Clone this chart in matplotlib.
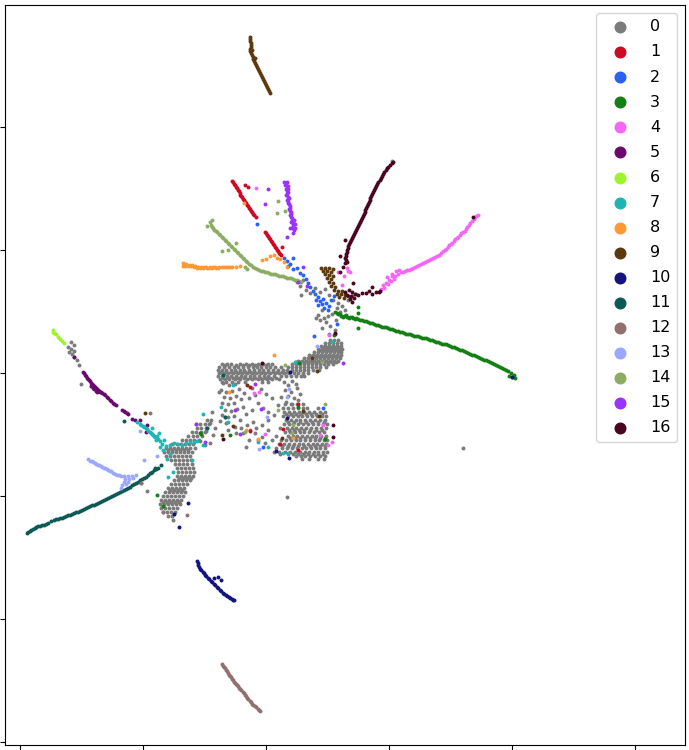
# Embedding scatter, one colour per cluster.
# axis units are arbitrary (tick labels are not visible in the source).
import matplotlib
matplotlib.use("Agg")
import matplotlib.pyplot as plt

labels = [str(i) for i in range(17)]
colors = ["#7b7b7b", "#cc0a23", "#2b62f5", "#128012", "#f566f5", "#6a0a6e", "#9cf52a", "#1fb5b5", "#ff9933",
          "#5c3a0e", "#14147f", "#0b5a55", "#937070", "#9ba8ff", "#8cac64", "#9933ff", "#4a0520"]

x_ticks = [20, 143, 266, 389, 512, 635]
y_ticks = [127, 250, 373, 496, 619, 742]

# cluster 0 is a big cloud, stored as rows: (y, [x, x, ...])
gray_rows = [
    (340, [330, 334, 338]), (343, [325, 329, 333, 337, 341]), (346, [321, 325, 329, 333, 337, 341]),
    (347, [323, 327, 331, 335, 339]), (350, [320, 324, 328, 332, 336, 340]), (356, [311, 315, 319, 323, 327, 331, 335, 339]),
    (362, [296, 300, 304, 308, 312, 316, 320, 324, 328, 332, 336]),
    (349, [318, 322, 326, 330, 334, 338, 342]), (352, [314, 318, 322, 326, 330, 334, 338, 341]),
    (355, [309, 313, 317, 321, 325, 329, 333, 337, 341]), (358, [304, 308, 312, 316, 320, 324, 328, 332, 336, 340]),
    (361, [298, 302, 306, 310, 314, 318, 322, 326, 330, 334, 338]),
    (364, [222, 227, 231, 240, 246, 252, 258, 263, 268, 272, 292, 296, 300, 304, 308, 312, 316, 320, 324, 328, 333]),
    (365, [225, 236, 243, 249, 255, 261, 266]),
    (367, [219, 224, 229, 234, 238, 243, 248, 253, 257, 261, 266, 270, 275, 281, 288, 292, 296, 300, 304, 308, 312, 316, 320, 326]),
    (370, [218, 222, 226, 231, 235, 240, 244, 249, 254, 259, 263, 268, 273, 278, 283, 287, 292, 296, 300, 304, 308, 313, 319]),
    (372, [221, 226, 231, 236, 240, 245, 250, 254, 259, 263, 268, 273, 277, 282, 287]),
    (373, [219, 224, 228, 233, 238, 242, 247, 252, 256, 261, 265, 270, 275, 279, 284, 289, 294, 298, 303, 308]),
    (376, [218, 222, 227, 231, 236, 241, 245, 250, 254, 259, 264, 268, 274, 281, 286, 291, 296, 301, 304]),
    (378, [223, 228, 233, 238, 244, 250, 255, 260, 265, 270, 276]),
    (379, [220, 225, 229, 235, 240, 247, 252, 258, 262, 267, 272, 279]),
    (382, [222, 226, 232, 238, 245, 262, 268, 284]),
    (404, [285, 291, 297, 303]), (408, [283, 288, 293, 298, 303, 307, 318]),
    (412, [284, 289, 294, 299, 304, 309, 314, 320, 325]), (414, [286, 291, 296, 301, 306, 311, 316, 322]),
    (416, [283, 288, 293, 298, 302, 307, 312, 317, 322, 326]), (422, [288, 294, 300, 306, 312, 318, 324]),
    (420, [286, 291, 296, 300, 305, 310, 315, 320, 325]), (424, [284, 289, 293, 298, 303, 308, 313, 318, 323, 327]),
    (428, [287, 292, 296, 301, 306, 311, 316, 321, 326]), (430, [289, 294, 299, 304, 310, 316, 322]),
    (432, [285, 290, 295, 300, 304, 309, 314, 319, 324]), (438, [290, 295, 300, 305, 310, 315, 320, 325]),
    (436, [288, 293, 297, 302, 307, 312, 316, 321, 326]), (440, [281, 286, 291, 296, 300, 305, 310, 315, 319, 324, 327]),
    (444, [279, 284, 289, 294, 299, 303, 308, 313, 317, 322, 326]), (446, [282, 288, 293, 298, 304, 310, 315, 320, 325]),
    (448, [276, 282, 287, 292, 297, 302, 306, 311, 316, 320, 325]), (454, [280, 288, 293, 298, 303, 308, 313, 318, 323]),
    (452, [274, 279, 285, 290, 295, 300, 305, 309, 314, 318, 323, 327]), (456, [296, 301, 305, 310, 315, 320, 325]),
    (459, [302, 309, 318, 324]),
    (420, [207, 211]), (424, [200, 205, 209]), (428, [197, 201, 206]), (432, [192, 196, 201, 205]),
    (436, [188, 193, 197, 202]), (440, [182, 186, 190, 194, 199]), (444, [172, 177, 181, 185, 189, 193]),
    (448, [166, 170, 174, 178, 182, 186, 190, 195]), (450, [168, 172, 176, 180, 184, 188]),
    (452, [164, 168, 172, 176, 180, 184, 188, 192]),
    (456, [166, 170, 174, 178, 182, 186, 190]), (460, [171, 175, 179, 183, 187, 191]),
    (464, [175, 179, 183, 187, 192]), (468, [177, 181, 185, 189, 193]), (472, [178, 182, 186, 190, 194]),
    (476, [177, 181, 185, 189, 193]), (478, [179, 183, 187, 191]), (480, [174, 178, 182, 186, 190]),
    (484, [171, 175, 179, 183, 187]), (488, [168, 172, 176, 180, 184]), (490, [170, 174, 178, 182]),
    (492, [165, 169, 173, 177, 181, 185]), (496, [163, 167, 171, 175, 179, 183]),
    (500, [161, 165, 169, 173, 177, 181]), (502, [163, 167, 171, 175, 179]), (504, [160, 164, 168, 172, 176, 180]),
    (508, [161, 165, 169, 173, 177]), (512, [163, 167, 171, 175]), (516, [168, 172]), (520, [173]),
]
gray_loose = [
    (292, 381), (288, 385), (296, 384), (285, 390), (291, 392), (297, 388), (288, 396), (294, 398), (300, 394), (286, 402),
    (292, 404), (298, 400), (281, 397), (223, 383), (229, 385), (235, 384), (221, 390), (226, 392), (232, 391), (239, 389),
    (224, 397), (230, 398), (236, 396), (222, 403), (228, 404), (234, 403), (241, 399), (225, 410), (231, 411), (237, 409),
    (243, 407), (222, 415), (228, 417), (234, 416), (220, 421), (226, 423), (240, 420), (246, 414), (252, 410), (249, 398),
    (255, 395), (261, 389), (258, 403), (263, 408), (268, 412), (272, 398), (266, 394), (252, 388), (244, 393), (247, 425),
    (253, 422), (241, 428), (235, 427), (228, 430), (236, 433), (243, 433), (250, 430), (256, 428), (262, 425), (268, 420),
    (274, 415), (278, 405), (215, 428), (210, 423), (206, 431), (213, 435), (255, 433), (262, 437), (268, 430), (258, 440),
    (265, 443), (272, 440), (276, 436), (280, 428), (249, 440), (246, 447), (200, 441), (205, 445), (210, 443),
    (297, 282), (300, 286), (303, 280), (306, 290), (301, 295), (310, 293), (315, 288), (320, 292), (325, 289), (329, 295),
    (333, 300), (338, 303), (342, 306), (348, 300), (352, 296), (356, 294), (322, 310), (318, 315), (320, 320), (324, 318),
    (328, 316), (332, 314), (316, 318), (326, 322), (330, 326), (335, 330), (336, 320), (340, 312), (337, 308), (345, 310),
    (322, 328), (329, 334), (71, 342), (74, 345), (68, 347), (71, 349), (74, 351), (69, 352), (72, 354), (74, 357), (77, 360),
    (79, 365), (81, 384), (150, 413), (463, 448), (287, 497), (392, 161), (141, 483), (147, 491), (151, 473), (196, 424),
    (212, 412), (219, 392),
]
cluster_1 = [
    (232, 181), (234, 184), (236, 187), (238, 190), (240, 193), (241, 196), (243, 199), (245, 202), (247, 205), (249, 208),
    (251, 211), (253, 214), (256, 217), (265, 232), (267, 235), (269, 238), (271, 241), (273, 244), (275, 247), (277, 250),
    (279, 253), (281, 255), (245, 185), (248, 187), (282, 247), (250, 387), (250, 431), (298, 404), (280, 444), (298, 450),
    (283, 429), (335, 334), (233, 182), (235, 185), (237, 188), (239, 191), (240, 195), (242, 197), (244, 200), (246, 203),
    (248, 206), (250, 209), (252, 212), (254, 215), (266, 233), (268, 236), (270, 239), (272, 242), (274, 245), (276, 248),
    (278, 251), (280, 254),
]
cluster_2 = [
    (284, 258), (287, 261), (290, 264), (293, 258), (288, 266), (293, 269), (297, 268), (300, 273), (303, 275), (306, 279),
    (308, 283), (310, 287), (313, 291), (315, 294), (318, 297), (316, 300), (320, 301), (323, 299), (322, 304), (326, 303),
    (329, 306), (331, 300), (318, 305), (324, 308), (334, 296), (328, 310), (314, 336), (337, 324), (257, 224), (323, 408),
    (263, 447),
]
cluster_3 = [
    (335, 312), (338, 314), (341, 316), (344, 316), (347, 317), (350, 317), (353, 318), (356, 318), (360, 320), (364, 321),
    (368, 322), (372, 323), (376, 325), (380, 326), (384, 327), (388, 328), (392, 329), (396, 331), (400, 332), (404, 333),
    (408, 334), (412, 335), (416, 336), (420, 337), (424, 338), (428, 339), (432, 340), (436, 342), (440, 343), (444, 344),
    (448, 345), (452, 347), (456, 348), (460, 350), (464, 351), (468, 353), (472, 355), (476, 356), (480, 358), (484, 360),
    (488, 361), (492, 363), (496, 365), (500, 367), (504, 369), (508, 371), (511, 373), (514, 375), (515, 378), (512, 377),
    (509, 376), (358, 328), (358, 307), (358, 313), (334, 335), (298, 407), (299, 363), (230, 435), (325, 439), (201, 434),
    (157, 495), (163, 506), (200, 433), (337, 313), (340, 314), (343, 317), (346, 315), (349, 318), (352, 317), (355, 319),
    (358, 319), (362, 320), (366, 321), (370, 323), (374, 324), (378, 325), (382, 327), (386, 327), (390, 329), (394, 330),
    (398, 331), (402, 332), (406, 334), (410, 334), (414, 336), (418, 336), (422, 338), (426, 338), (430, 340), (434, 341),
    (438, 342), (442, 344), (446, 344), (450, 346), (454, 347), (458, 349), (462, 350), (466, 352), (470, 354), (474, 355),
    (478, 357), (482, 359), (486, 360), (490, 362), (494, 364), (498, 366), (502, 368), (506, 370),
]
cluster_4 = [
    (478, 215), (475, 217), (472, 221), (469, 225), (466, 229), (463, 232), (460, 235), (457, 238), (454, 241), (451, 244),
    (448, 247), (445, 250), (441, 253), (437, 256), (433, 258), (429, 260), (425, 262), (421, 264), (417, 266), (413, 268),
    (409, 270), (405, 271), (401, 272), (398, 274), (395, 276), (399, 270), (392, 276), (396, 271), (389, 280), (386, 283),
    (383, 285), (381, 289), (384, 288), (388, 284), (391, 281), (394, 279), (387, 277), (392, 274), (338, 272), (347, 268),
    (348, 271), (342, 285), (344, 276), (350, 272), (254, 393), (259, 392), (265, 434), (323, 425), (320, 435), (332, 442),
    (328, 445), (329, 335), (256, 188), (476, 216), (474, 219), (470, 223), (467, 227), (465, 231), (461, 233), (458, 237),
    (455, 239), (452, 243), (449, 245), (446, 249), (443, 251), (439, 255), (435, 257), (431, 259), (427, 261), (423, 263),
    (419, 265), (415, 267), (411, 269), (407, 270), (403, 272),
]
cluster_5 = [
    (83, 372), (85, 375), (87, 378), (89, 380), (91, 383), (93, 385), (95, 387), (97, 389), (99, 391), (101, 392), (104, 394),
    (107, 397), (110, 400), (113, 403), (116, 405), (122, 410), (125, 412), (128, 414), (132, 419), (135, 420), (140, 420),
    (147, 425), (74, 357), (146, 432), (93, 388), (96, 391), (91, 386), (84, 373), (86, 376), (88, 379), (90, 381), (92, 384),
    (94, 386), (96, 388), (98, 390), (100, 392), (102, 393), (105, 395), (108, 398), (111, 401), (114, 404), (124, 411),
    (127, 413), (94, 389), (97, 392),
]
cluster_6 = [(53, 330), (54, 333), (56, 334), (58, 337), (60, 339), (62, 341), (64, 343), (53, 332)]
cluster_7 = [
    (137, 422), (140, 424), (143, 426), (146, 428), (148, 431), (151, 433), (153, 435), (155, 437), (158, 439), (160, 441),
    (157, 436), (162, 444), (160, 447), (163, 450), (166, 446), (170, 445), (174, 443), (178, 444), (182, 445), (186, 443),
    (190, 442), (194, 442), (197, 441), (156, 440), (159, 433), (152, 428), (164, 440), (170, 454), (167, 459), (168, 477),
    (173, 472), (192, 460), (203, 445), (223, 375), (233, 385), (221, 407), (295, 362), (332, 342), (228, 422), (225, 417),
    (203, 414), (207, 428), (283, 453), (288, 453), (258, 442), (268, 447), (141, 425), (144, 427), (147, 429), (150, 432),
    (152, 434), (154, 436),
]
cluster_8 = [
    (183, 263), (183, 266), (186, 264), (189, 265), (192, 265), (195, 266), (198, 267), (201, 267), (204, 267), (207, 268),
    (210, 267), (213, 267), (216, 268), (219, 267), (224, 267), (228, 267), (232, 267), (236, 267), (240, 266), (262, 260),
    (266, 259), (270, 256), (274, 255), (277, 258), (280, 259), (284, 262), (287, 267), (274, 355), (229, 392), (246, 430),
    (293, 438), (258, 439), (244, 203), (185, 266), (188, 266), (191, 266), (194, 267), (197, 268), (200, 268), (203, 268),
    (206, 267), (209, 268), (212, 268), (215, 267), (218, 268), (222, 267), (226, 267), (230, 267),
]
cluster_9 = [
    (250, 37), (250, 41), (251, 45), (250, 49), (251, 53), (253, 57), (254, 61), (256, 65), (258, 69), (260, 73), (262, 77),
    (264, 81), (266, 85), (268, 89), (270, 93), (252, 50), (255, 58), (321, 268), (325, 268), (329, 268), (333, 269),
    (323, 271), (327, 271), (331, 272), (325, 274), (329, 275), (333, 276), (327, 278), (331, 279), (329, 282), (333, 283),
    (331, 286), (335, 287), (334, 290), (338, 291), (342, 291), (337, 294), (341, 294), (345, 295), (339, 297), (344, 298),
    (348, 296), (247, 385), (317, 371), (303, 411), (319, 416), (282, 438), (233, 426), (312, 358), (222, 435), (145, 413),
    (250, 39), (251, 43), (251, 47), (250, 51), (252, 55), (253, 59), (255, 63), (257, 67), (259, 71), (261, 75), (263, 79),
    (265, 83), (267, 87), (269, 91),
]
cluster_10 = [
    (197, 561), (198, 565), (200, 569), (203, 572), (205, 575), (208, 578), (211, 581), (214, 584), (217, 587), (220, 590),
    (223, 593), (226, 595), (229, 597), (232, 599), (234, 600), (214, 578), (218, 577), (221, 580), (290, 372), (287, 418),
    (276, 451), (289, 458), (188, 503), (174, 514), (179, 527), (512, 377), (198, 563), (199, 567), (201, 570), (204, 573),
    (206, 576), (209, 579), (212, 582), (215, 585), (218, 588), (221, 591), (224, 594), (227, 596), (230, 598), (233, 600),
]
cluster_11 = [
    (27, 533), (30, 531), (33, 529), (36, 527), (40, 526), (44, 525), (48, 523), (51, 521), (54, 520), (58, 519), (62, 518),
    (66, 516), (70, 515), (74, 513), (78, 512), (82, 510), (86, 508), (90, 506), (94, 505), (98, 503), (102, 501), (106, 499),
    (110, 497), (114, 495), (118, 493), (122, 491), (126, 489), (130, 487), (134, 484), (138, 482), (142, 479), (146, 477),
    (150, 473), (154, 470), (158, 468), (161, 465), (155, 468), (124, 421), (223, 375), (225, 417), (207, 428), (28, 532),
    (31, 530), (35, 528), (38, 526), (42, 525), (46, 524), (56, 519), (60, 518), (64, 517), (68, 515), (72, 514), (76, 512),
    (80, 511), (84, 509), (88, 507), (92, 505), (96, 504), (100, 502), (104, 500), (108, 498), (112, 496), (116, 494),
    (120, 492), (124, 490), (128, 488), (132, 485), (136, 483), (140, 480), (144, 478), (148, 475), (152, 472), (156, 469),
]
cluster_12 = [
    (222, 664), (224, 667), (226, 670), (228, 673), (230, 676), (232, 679), (234, 682), (236, 684), (238, 686), (240, 689),
    (243, 692), (245, 695), (247, 698), (250, 701), (252, 704), (255, 706), (258, 709), (260, 711), (163, 512), (187, 515),
    (141, 483), (223, 666), (225, 668), (227, 671), (229, 675), (231, 677), (233, 680), (235, 683), (237, 685), (239, 688),
    (241, 690), (244, 693), (246, 696), (248, 699), (251, 702), (253, 705), (256, 707), (259, 710),
]
cluster_13 = [
    (88, 459), (90, 461), (93, 462), (96, 464), (99, 465), (102, 467), (105, 468), (108, 470), (111, 471), (115, 474),
    (119, 475), (124, 476), (128, 476), (132, 476), (136, 475), (125, 479), (129, 479), (133, 478), (124, 482), (128, 482),
    (122, 485), (126, 484), (121, 488), (144, 460), (157, 456), (140, 431), (289, 389), (287, 397), (267, 417), (259, 449),
    (317, 346), (92, 461), (95, 463), (98, 465), (101, 466), (104, 468), (107, 469), (110, 471), (113, 473), (117, 475),
    (121, 476),
]
cluster_14 = [
    (207, 226), (211, 225), (213, 228), (216, 231), (219, 234), (222, 237), (225, 240), (228, 243), (231, 246), (234, 249),
    (237, 252), (240, 255), (243, 258), (246, 261), (249, 264), (253, 267), (257, 269), (261, 271), (265, 272), (269, 273),
    (273, 274), (277, 275), (281, 276), (285, 277), (289, 278), (293, 279), (297, 280), (301, 282), (212, 220), (210, 222),
    (236, 243), (228, 250), (222, 251), (278, 201), (277, 213), (285, 211), (245, 267), (247, 269), (285, 365), (322, 362),
    (278, 410), (293, 425), (292, 433), (325, 404), (245, 432), (212, 227), (214, 230), (217, 232), (220, 235), (223, 238),
    (226, 241), (229, 244), (232, 247), (235, 250), (238, 253), (241, 256), (244, 259), (247, 262), (251, 265), (255, 268),
    (259, 270), (263, 271), (267, 272), (271, 274), (275, 274), (279, 276), (283, 276), (287, 278), (291, 278), (295, 280),
    (299, 281),
]
cluster_15 = [
    (284, 182), (287, 182), (285, 185), (288, 186), (286, 189), (288, 192), (286, 195), (289, 198), (287, 200), (288, 203),
    (290, 206), (289, 209), (291, 212), (290, 215), (292, 218), (294, 220), (291, 222), (295, 224), (293, 226), (290, 228),
    (294, 230), (293, 233), (288, 189), (268, 189), (265, 204), (287, 237), (298, 282), (303, 267), (307, 286), (235, 410),
    (261, 409), (343, 363), (240, 434), (255, 384), (205, 442), (196, 424), (286, 183), (287, 188), (287, 191), (287, 194),
    (288, 197), (288, 201), (289, 204), (290, 208), (290, 211), (291, 214), (291, 217), (292, 220), (293, 222), (293, 224),
    (292, 228), (295, 228),
]
cluster_16 = [
    (393, 162), (390, 165), (387, 168), (384, 172), (382, 176), (380, 180), (377, 184), (375, 188), (373, 192), (371, 196),
    (370, 200), (368, 204), (366, 208), (365, 212), (363, 216), (361, 220), (359, 224), (357, 228), (355, 232), (353, 236),
    (351, 240), (349, 244), (348, 248), (347, 252), (346, 256), (346, 260), (345, 263), (345, 292), (349, 290), (352, 292),
    (347, 295), (351, 296), (355, 294), (350, 299), (354, 298), (358, 295), (362, 293), (366, 293), (369, 291), (372, 294),
    (376, 292), (380, 291), (352, 302), (345, 240), (340, 256), (343, 267), (340, 272), (353, 283), (372, 287), (473, 217),
    (379, 292), (262, 363), (333, 425), (333, 437), (223, 439), (335, 333), (392, 163), (388, 167), (386, 170), (383, 174),
    (381, 178), (378, 182), (376, 186), (374, 190), (372, 194), (370, 198), (369, 202), (367, 206), (365, 210), (364, 214),
    (362, 218), (360, 222), (358, 226), (356, 230), (354, 234), (352, 238), (350, 242), (348, 246), (347, 250), (346, 254),
    (345, 258), (347, 262),
]

cluster_0 = [(x, y) for y, xs in gray_rows for x in xs] + gray_loose
clusters = [cluster_0, cluster_1, cluster_2, cluster_3, cluster_4, cluster_5, cluster_6, cluster_7, cluster_8, cluster_9,
            cluster_10, cluster_11, cluster_12, cluster_13, cluster_14, cluster_15, cluster_16]

fig = plt.figure(figsize=(6.89, 7.5), dpi=100)
ax = fig.add_axes([5 / 689, 1 - 745 / 750, 680 / 689, 740 / 750])

for points, label, color in zip(clusters, labels, colors):
    xs, ys = zip(*points)
    ax.scatter(xs, ys, s=8, color=color, label=label, linewidths=0)

ax.set_xlim(5, 685)
ax.set_ylim(745, 5)
ax.set_xticks(x_ticks)
ax.set_yticks(y_ticks)
ax.tick_params(labelbottom=False, labelleft=False)
ax.legend(loc="upper right", fontsize=11.5, markerscale=3.05, labelspacing=0.63, handlelength=2.2)

fig.savefig("out.png", dpi=100)
